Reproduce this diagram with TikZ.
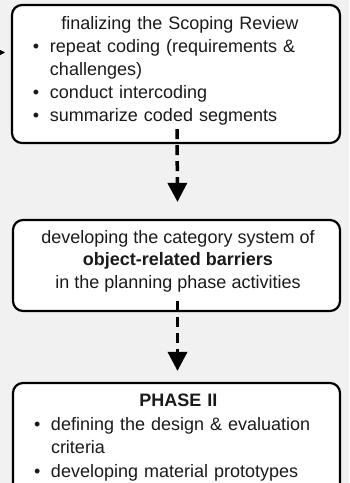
\documentclass[tikz,border=0pt]{standalone}
\usepackage{fontspec}
\setmainfont{Liberation Sans}
\usetikzlibrary{arrows.meta}
\definecolor{bg}{HTML}{F1F1F1}
\definecolor{ink}{HTML}{1A1A1A}
\tikzset{
  boxframe/.style={draw=black, fill=white, line width=2.2pt, rounded corners=10pt, inner sep=0pt},
  boxtext/.style={inner sep=0pt, text=ink, font=\fontsize{18}{23}\selectfont},
  flowarrow/.style={line width=3.5pt, dash pattern=on 10pt off 6pt, -{Triangle[width=19pt,length=19pt]}},
  inarrow/.style={line width=1pt, -{Triangle[width=5pt,length=5pt]}}
}
\newcommand{\bul}[1]{\hspace*{21pt}\makebox[17pt][l]{\textbullet}#1}
\newcommand{\cont}[1]{\hspace*{38pt}#1}
\begin{document}
\begin{tikzpicture}[x=1pt,y=-1pt]
\useasboundingbox (0,0) rectangle (349,483);
\clip (0,0) rectangle (349,483);
\fill[bg] (0,0) rectangle (349,483);

% boxes
\node[boxframe, minimum width=328pt, minimum height=138pt] (box1) at (176,74) {};
\node[boxframe, minimum width=327pt, minimum height=91pt] (box2) at (176.5,265.5) {};
\node[boxframe, minimum width=327pt, minimum height=130pt] (box3) at (176.5,448) {};

% texts
\node[boxtext, text width=328pt, align=left, anchor=north] (t1) at (176,16) {%
\makebox[328pt][c]{\hspace{8pt}finalizing the Scoping Review}\\
\bul{repeat coding (requirements \&}\\
\cont{challenges)}\\
\bul{conduct intercoding}\\
\bul{summarize coded segments}};

\node[boxtext, align=center, anchor=north, font=\fontsize{18}{22.5}\selectfont] (t2) at (178,230) {%
developing the category system of\\
\textbf{object-related barriers}\\
in the planning phase activities};

\node[boxtext, text width=327pt, align=left, anchor=north, font=\fontsize{18}{23.5}\selectfont] (t3) at (176.5,394) {%
\makebox[327pt][c]{\hspace{4pt}\textbf{PHASE II}}\\
\bul{defining the design \& evaluation}\\
\cont{criteria}\\
\bul{developing material prototypes}};

% connectors
\draw[flowarrow] ([xshift=1pt,yshift=15pt]box1.south) -- ([xshift=1pt,yshift=17pt]box2.north);
\draw[flowarrow] ([xshift=1pt,yshift=11pt]box2.south) -- ([xshift=1pt,yshift=11pt]box3.north);

\coordinate (ext) at (-20,52.5);
\coordinate (inl) at (5,52.5);
\draw[inarrow] (ext) -- (inl);
\end{tikzpicture}
\end{document}
